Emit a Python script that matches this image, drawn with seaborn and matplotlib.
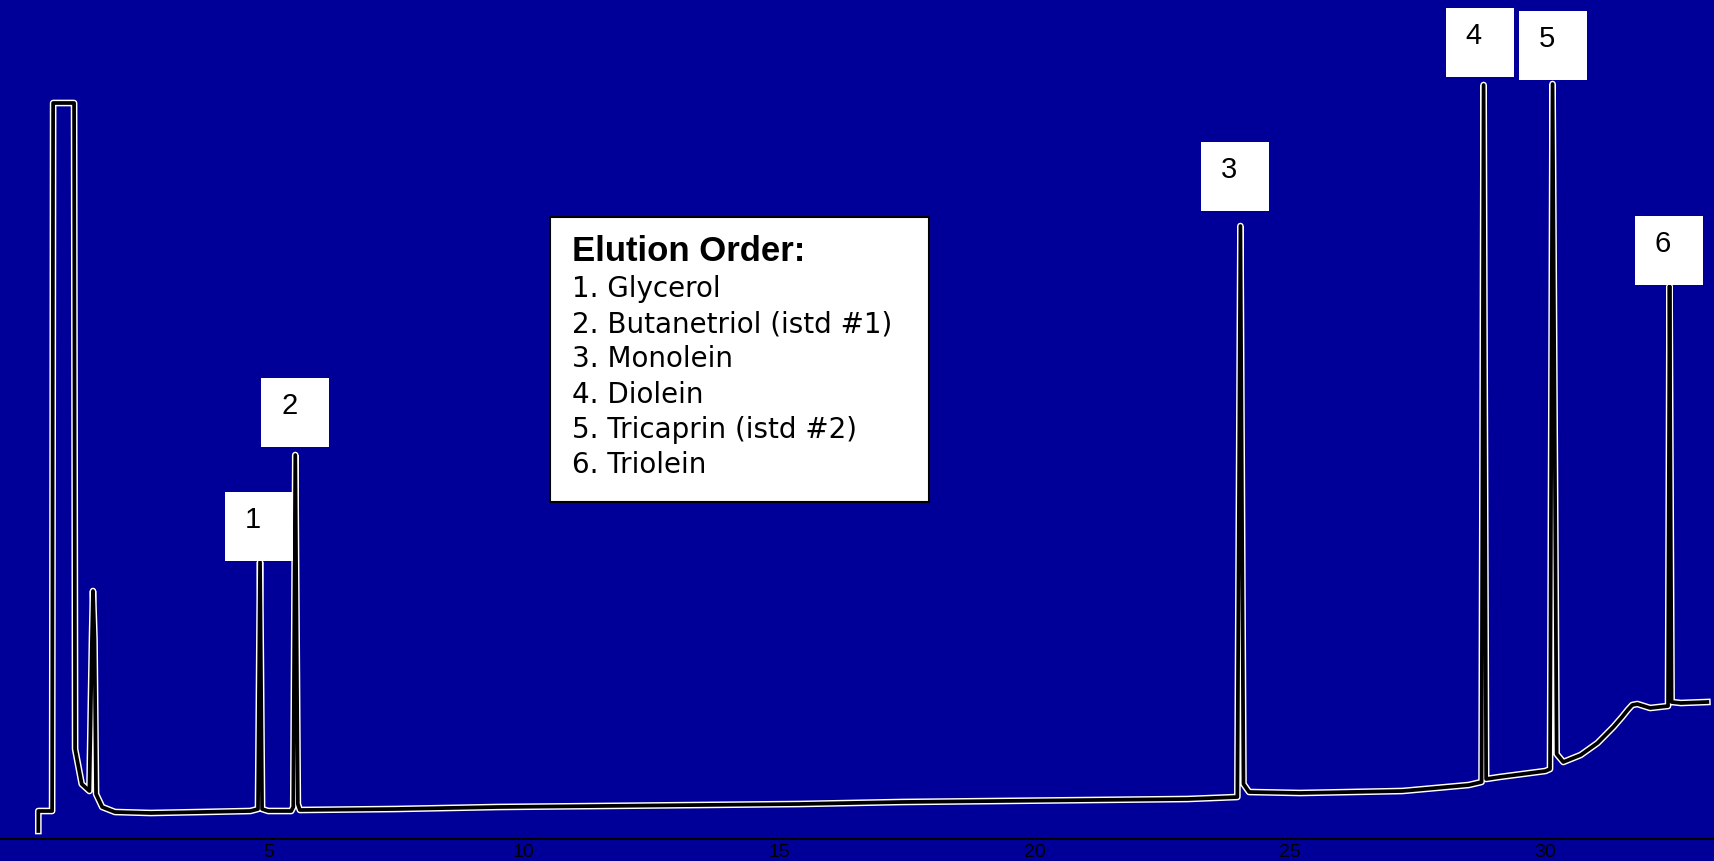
import matplotlib
matplotlib.use("Agg")
import matplotlib.pyplot as plt
import matplotlib.patheffects as pe
from matplotlib.patches import Rectangle
from matplotlib import font_manager
import seaborn as sns
import pandas as pd

# chromatogram trace (time in min, signal in arbitrary units)
time = [0.50, 0.50, 0.77, 0.79, 1.20, 1.22, 1.35, 1.50, 1.55, 1.57, 1.60, 1.63,
        1.75, 2.00, 2.70, 3.70, 4.65, 4.80, 4.84, 4.88, 5.00, 5.45, 5.49, 5.53,
        5.58, 5.62, 7.50, 9.50, 11.50, 15.40, 17.40, 19.30, 23.00, 23.97, 24.03,
        24.09, 24.20, 25.20, 27.20, 28.50, 28.75, 28.79, 28.84, 29.10, 30.00,
        30.09, 30.14, 30.22, 30.35, 30.69, 31.02, 31.33, 31.50, 31.61, 31.70,
        31.80, 32.05, 32.40, 32.43, 32.47, 32.65, 33.17]
signal = [8, 28, 28, 736, 736, 90, 55, 48, 200, 248, 200, 45,
          32, 27, 26, 27, 28, 30, 277, 30, 28, 28, 32, 384,
          35, 29, 30, 32, 33, 35, 37, 38, 40, 42, 613,
          55, 47, 46, 48, 54, 57, 754, 60, 62, 68,
          70, 755, 85, 77, 84, 96, 112, 122, 129, 134,
          135, 131, 133, 553, 137, 136, 137]

peak_ids = ["1", "2", "3", "4", "5", "6"]
peak_times = [4.84, 5.53, 24.03, 28.79, 30.14, 32.43]
peak_heights = [277, 384, 613, 754, 755, 553]

legend_title = "Elution Order:"
legend_items = ["1. Glycerol", "2. Butanetriol (istd #1)", "3. Monolein",
                "4. Diolein", "5. Tricaprin (istd #2)", "6. Triolein"]
xticks = [5, 10, 15, 20, 25, 30]

# layout of the number boxes (pixels): horizontal shift and gap above the peak
box_dx = [-1, 0, -5, -4, 0, -1]
box_gap = [1, 8, 15, 8, 4, 1]

bg = "#000099"
px_per_min = 1714 / (33.30 + 0.25)

names = {f.name for f in font_manager.fontManager.ttflist}
tick_family = "Liberation Sans Narrow" if "Liberation Sans Narrow" in names else "Liberation Sans"

fig = plt.figure(figsize=(17.14, 8.62), dpi=100)
fig.patch.set_facecolor(bg)
ax = fig.add_axes([0, 22 / 862, 1, 840 / 862])
ax.set_facecolor(bg)

df = pd.DataFrame({"time": time, "signal": signal})
sns.lineplot(data=df, x="time", y="signal", sort=False, estimator=None,
             color="black", linewidth=2.7, ax=ax,
             path_effects=[pe.Stroke(linewidth=4.8, foreground="white"), pe.Normal()])

ax.set_xlim(-0.25, 33.30)
ax.set_ylim(0, 840)
ax.set_xticks(xticks)
ax.set_xticklabels([str(t) for t in xticks], family=tick_family,
                   fontsize=14, color="black")
ax.tick_params(axis="x", length=0, pad=3)
ax.set_yticks([])
ax.set_xlabel("")
ax.set_ylabel("")
for s in ["top", "left", "right"]:
    ax.spines[s].set_visible(False)
ax.spines["bottom"].set_color("black")
ax.spines["bottom"].set_linewidth(1.5)

# numbered boxes above the peaks
box_w = 68 / px_per_min
box_h = 69
for pid, t, h, dx, gap in zip(peak_ids, peak_times, peak_heights, box_dx, box_gap):
    cx = t + dx / px_per_min
    y0 = h + gap
    ax.add_patch(Rectangle((cx - box_w / 2, y0), box_w, box_h, facecolor="white",
                           edgecolor="none", zorder=5))
    ax.text(cx - 6 / px_per_min, y0 + box_h / 2 + 7, pid, ha="center", va="center",
            fontsize=21, family="Liberation Sans", color="black", zorder=6)

# elution order box
ax.add_patch(Rectangle((550 / 1714, (840 - 503) / 840), 379 / 1714, 285 / 840,
                       transform=ax.transAxes, facecolor="white", edgecolor="black",
                       linewidth=1.5, zorder=5))
ax.text(572 / 1714, (840 - 261) / 840, legend_title, transform=ax.transAxes,
        ha="left", va="baseline", fontsize=25, fontweight="bold",
        family="Liberation Sans", color="black", zorder=6)
for i, item in enumerate(legend_items):
    ax.text(572 / 1714, (840 - 297 - 35.2 * i) / 840, item, transform=ax.transAxes,
            ha="left", va="baseline", fontsize=20, family="DejaVu Sans",
            color="black", zorder=6)

fig.savefig("out.png", dpi=100, facecolor=bg)
